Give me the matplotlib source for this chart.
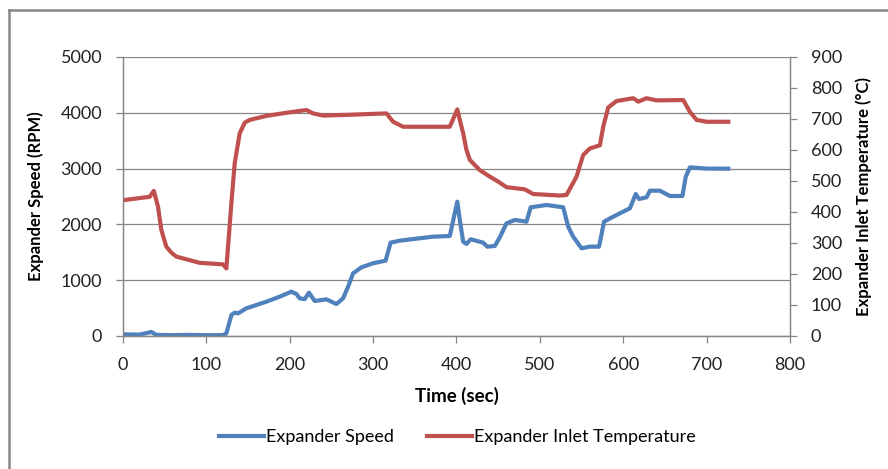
import matplotlib.pyplot as plt
from matplotlib.lines import Line2D

plt.rcParams['font.family'] = ['Lato', 'DejaVu Sans']

# expander speed (RPM) vs time (sec)
speed_t = [0, 20, 34, 40, 60, 80, 100, 120, 124, 130, 134, 138, 148, 172, 188, 202, 208,
           212, 218, 223, 230, 244, 256, 264, 270, 276, 286, 300, 315, 321, 332, 352,
           372, 392, 397, 401, 404, 408, 412, 417, 432, 437, 446, 452, 460, 470, 484,
           489, 508, 528, 534, 540, 550, 560, 571, 577, 588, 608, 615, 619, 628, 632,
           644, 656, 671, 675, 680, 700, 726]
speed_rpm = [30, 25, 72, 20, 15, 20, 15, 15, 48, 376, 418, 406, 496, 615, 705, 794, 753,
             675, 660, 777, 627, 657, 573, 675, 884, 1123, 1231, 1303, 1350, 1673, 1708, 1744,
             1780, 1792, 2138, 2407, 2079, 1690, 1649, 1733, 1673, 1601, 1613, 1769, 2020, 2079, 2049,
             2306, 2348, 2306, 1959, 1780, 1571, 1601, 1601, 2049, 2138, 2288, 2545, 2455, 2485, 2604,
             2604, 2509, 2509, 2855, 3023, 3000, 2999]

# expander inlet temperature (°C) vs time (sec)
temp_t = [0, 32, 37, 42, 46, 52, 58, 64, 92, 120, 124, 130, 134, 140, 146, 152, 172, 196, 220,
          228, 240, 276, 316, 324, 336, 372, 392, 401, 404, 408, 412, 416, 428, 440, 450, 460,
          482, 492, 524, 532, 544, 552, 560, 572, 576, 582, 592, 612, 618, 628, 640,
          672, 680, 688, 700, 726]
temp_c = [438, 449, 468, 417, 342, 288, 269, 256, 236, 231, 218, 428, 557, 654, 688, 697, 710, 720, 729,
          718, 711, 714, 718, 691, 675, 675, 675, 731, 697, 654, 600, 568, 535, 514, 498, 480,
          473, 458, 453, 455, 514, 584, 605, 615, 675, 737, 758, 767, 756, 767, 760,
          761, 723, 697, 691, 691]

blue = '#4F81BD'
red = '#C0504D'
grey = '#868686'

fig = plt.figure(figsize=(8.88, 4.69), dpi=100)
ax = fig.add_axes([0.1385, 0.2836, 0.7511, 0.5949])
ax2 = ax.twinx()

ax.plot(speed_t, speed_rpm, color=blue, lw=3, solid_joinstyle='round')
ax2.plot(temp_t, temp_c, color=red, lw=3, solid_joinstyle='round')

ax.set_xlim(0, 800)
ax.set_ylim(0, 5000)
ax2.set_ylim(0, 900)
ax.set_xticks(range(0, 801, 100))
ax.set_yticks(range(0, 5001, 1000))
ax2.set_yticks(range(0, 901, 100))

ax.grid(axis='y', color=grey, lw=0.9)
ax.set_axisbelow(True)

for a in (ax, ax2):
    a.spines['top'].set_visible(False)
    for side in ('left', 'right', 'bottom'):
        a.spines[side].set_color(grey)
        a.spines[side].set_linewidth(0.9)
    a.tick_params(color=grey, length=5, width=0.9, labelsize=13, labelcolor='#222222')
ax.tick_params(axis='y', pad=10)
ax2.tick_params(axis='y', pad=10)
ax.tick_params(axis='x', pad=10)

ax.set_xlabel('Time (sec)', fontsize=13.5, fontweight='bold', labelpad=10)
ax.set_ylabel('Expander Speed (RPM)', fontsize=12, fontweight='bold', labelpad=12)
ax2.set_ylabel('Expander Inlet Temperature (°C)', fontsize=12, fontweight='bold', labelpad=10)

handles = [Line2D([], [], color=blue, lw=3), Line2D([], [], color=red, lw=3)]
fig.legend(handles, ['Expander Speed', 'Expander Inlet Temperature'], loc='center',
           bbox_to_anchor=(0.515, 0.068), ncol=2, frameon=False, fontsize=13,
           handlelength=2.5, handletextpad=0.1, columnspacing=1.8)

# chart frame (left and top edges)
fig.add_artist(Line2D([9 / 888, 9 / 888], [0, 1 - 10 / 469], color=grey, lw=1.8,
                      transform=fig.transFigure))
fig.add_artist(Line2D([9 / 888, 1], [1 - 10 / 469, 1 - 10 / 469], color=grey, lw=1.8,
                      transform=fig.transFigure))

fig.savefig('out.png', dpi=100)
